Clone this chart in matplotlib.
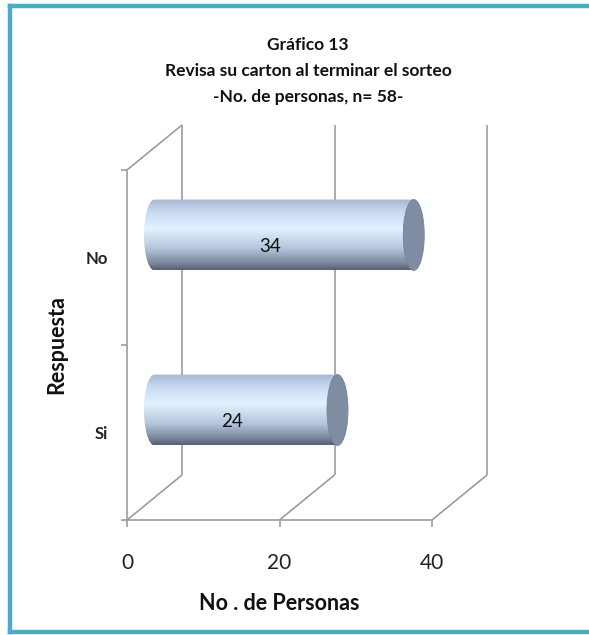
import numpy as np
import matplotlib
matplotlib.use("Agg")
import matplotlib.pyplot as plt
from matplotlib.colors import LinearSegmentedColormap
from matplotlib.patches import Ellipse, PathPatch
from matplotlib.path import Path
from matplotlib.lines import Line2D

# Data
categories = ["Si", "No"]
personas = [24, 34]
x_ticks = [0, 20, 40]
title_lines = ["Gráfico 13",
               "Revisa su carton al terminar el sorteo",
               "-No. de personas, n= 58-"]
x_label = "No . de Personas"
y_label = "Respuesta"

W, H, DPI = 589, 635, 100
FONT = "Lato"
GRID = "#9c9c9c"
FRAME = "#4AACC6"

fig = plt.figure(figsize=(W / DPI, H / DPI), dpi=DPI)
fig.patch.set_facecolor("white")

# front plane of the 3-D box
ax = fig.add_axes([127 / W, 115 / H, 305 / W, 350 / H])
ax.set_xlim(0, 40)
ax.set_ylim(-0.5, len(categories) - 0.5)
ax.patch.set_alpha(0)
for s in ("top", "right"):
    ax.spines[s].set_visible(False)
for s in ("bottom", "left"):
    ax.spines[s].set_color(GRID)
    ax.spines[s].set_linewidth(1.2)

ax.set_xticks(x_ticks)
ax.set_xticklabels([str(t) for t in x_ticks], fontsize=15, family=FONT, color="#222222")
ax.tick_params(axis="x", length=5, width=1.2, color=GRID, pad=19)

ypos = np.arange(len(categories))
ax.set_yticks(np.append(ypos - 0.5, ypos[-1] + 0.5))
ax.set_yticklabels([])
ax.tick_params(axis="y", length=4, width=1.2, color=GRID)
ax.set_yticks(ypos, minor=True)
ax.set_yticklabels(categories, minor=True, fontsize=12, family=FONT,
                   fontweight="bold", color="#222222")
ax.tick_params(axis="y", which="minor", length=0, pad=14)

# axis titles
fig.text(279.5 / W, 1 - 604 / H, x_label, ha="center", va="center",
         fontsize=15.5, family=FONT, fontweight="bold", color="#111111")
fig.text(57 / W, 1 - 345 / H, y_label, ha="center", va="center", rotation=90,
         fontsize=15.5, family=FONT, fontweight="bold", color="#111111")


def depth(frac):
    """Data-space shift for a fraction of the box depth (55 px right, 45 px up)."""
    p0 = ax.transData.transform((0, 0))
    p1 = ax.transData.inverted().transform(p0 + np.array([55 * frac, 45 * frac]))
    return p1[0], p1[1]


ylo, yhi = ax.get_ylim()
bx, by = depth(1.0)

def seg(xs, ys):
    ax.add_line(Line2D(xs, ys, color=GRID, lw=1.2, clip_on=False, zorder=1,
                       solid_capstyle="butt"))

# back wall grid lines and floor diagonals
for t in x_ticks:
    seg([t + bx, t + bx], [ylo + by, yhi + by])
    seg([t, t + bx], [ylo, ylo + by])
# left wall top edge
seg([0, bx], [yhi, yhi + by])

# cylinders
mx, my = depth(0.5)
qx, qy = depth(0.25)
p0 = ax.transData.transform((0, 0))
rx = ax.transData.inverted().transform(p0 + np.array([10.5, 0]))[0]
bar_h = 0.405

cmap = LinearSegmentedColormap.from_list("cyl", [
    (0.00, "#565f74"),
    (0.10, "#7c889e"),
    (0.30, "#b4c4db"),
    (0.58, "#e0f3ff"),
    (0.82, "#c9daf0"),
    (1.00, "#a6b8d2"),
])
grad = np.linspace(0, 1, 256).reshape(-1, 1)

for y, v in zip(ypos, personas):
    yc = y + my
    x0, x1 = mx, v + mx
    top, bot = yc + bar_h / 2, yc - bar_h / 2
    t = np.linspace(1.5 * np.pi, 0.5 * np.pi, 40)
    verts = [(x0, top), (x1, top), (x1, bot), (x0, bot)]
    verts += list(zip(x0 + rx * np.cos(t), yc + (bar_h / 2) * np.sin(t)))
    verts.append((x0, top))
    codes = [Path.MOVETO] + [Path.LINETO] * (len(verts) - 2) + [Path.CLOSEPOLY]
    body = PathPatch(Path(verts, codes), facecolor="none", edgecolor="none")
    ax.add_patch(body)
    im = ax.imshow(grad, cmap=cmap, origin="lower", aspect="auto",
                   extent=[x0 - rx, x1, bot, top], zorder=3)
    im.set_clip_path(body)
    ax.add_patch(Ellipse((x1, yc), 2 * rx, bar_h, facecolor="#7f8da2",
                         edgecolor="#76849a", lw=0.6, zorder=4, clip_on=False))
    ax.text(v / 2 + qx, y + qy, str(v), ha="center", va="center",
            fontsize=13.5, family=FONT, color="#111111", zorder=5)

ax.set_xlim(0, 40)
ax.set_ylim(ylo, yhi)

# title
for k, line in enumerate(title_lines):
    fig.text(308 / W, 1 - (45 + 26 * k) / H, line, ha="center", va="center",
             fontsize=12.5, family=FONT, fontweight="bold", color="#111111")

# chart frame
for xs, ys in (([10, 10], [6, 632]), ([10, W], [6, 6]), ([10, W], [632, 632])):
    fig.add_artist(Line2D([x / W for x in xs], [1 - y / H for y in ys],
                          transform=fig.transFigure, color=FRAME, lw=3.2))

fig.savefig("out.png", dpi=DPI)
